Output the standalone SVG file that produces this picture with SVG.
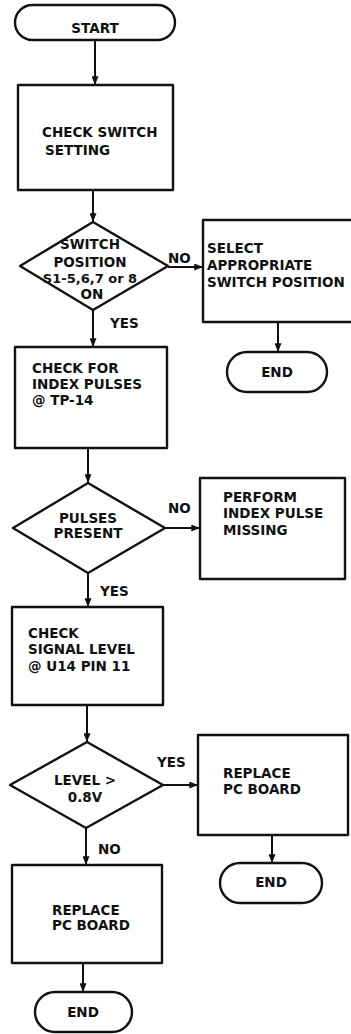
<svg xmlns="http://www.w3.org/2000/svg" width="351" height="1034" viewBox="0 0 351 1034">
<defs>
<marker id="ah" viewBox="0 0 10 8" refX="10" refY="4" markerWidth="10" markerHeight="7" orient="auto" markerUnits="userSpaceOnUse">
<path d="M0,0 L10,4 L0,8 Z" fill="#111"/>
</marker>
<style>
.s{fill:#fff;stroke:#111;stroke-width:2.4;stroke-linejoin:round}
.t{font-family:"DejaVu Sans","Liberation Sans",sans-serif;font-weight:bold;font-size:13.5px;fill:#111}
.m{text-anchor:middle}
.c line{stroke:#111;stroke-width:2;marker-end:url(#ah)}
</style>
</defs>
<rect width="351" height="1034" fill="#fff"/>
<g class="c" id="connectors">
<line x1="95" y1="40" x2="95" y2="85"/>
<line x1="93" y1="190" x2="93" y2="222"/>
<line x1="168" y1="267" x2="203" y2="267"/>
<line x1="93" y1="310" x2="93" y2="347"/>
<line x1="278" y1="322" x2="278" y2="352"/>
<line x1="88" y1="448" x2="88" y2="483"/>
<line x1="165" y1="528" x2="200" y2="528"/>
<line x1="88" y1="573" x2="88" y2="607"/>
<line x1="87" y1="705" x2="87" y2="742"/>
<line x1="163" y1="785" x2="198" y2="785"/>
<line x1="272" y1="835" x2="272" y2="863"/>
<line x1="86" y1="828" x2="86" y2="865"/>
<line x1="83" y1="963" x2="83" y2="992"/>
</g>
<g id="start"><rect class="s" x="15" y="5" width="160" height="35" rx="17.5"/><text class="t m" x="95" y="33">START</text></g>
<g id="check-switch"><rect class="s" x="18" y="85" width="155" height="105"/><text class="t" x="42" y="137">CHECK SWITCH</text><text class="t" x="45" y="155">SETTING</text></g>
<g id="switch-dec"><path class="s" d="M93,222 L168,266 L93,310 L20,266 Z"/>
<text class="t m" x="90" y="249">SWITCH</text><text class="t m" x="90" y="267">POSITION</text><text class="t m" x="90" y="283" style="font-size:13px">S1-5,6,7 or 8</text><text class="t m" x="92" y="299">ON</text></g>
<g id="select"><rect class="s" x="203" y="220" width="152" height="102"/><text class="t" x="207" y="253">SELECT</text><text class="t" x="207" y="270">APPROPRIATE</text><text class="t" x="207" y="287">SWITCH POSITION</text></g>
<g id="end1"><rect class="s" x="227" y="352" width="100" height="40" rx="20"/><text class="t m" x="277" y="377">END</text></g>
<g id="check-index"><rect class="s" x="15" y="347" width="152" height="101"/><text class="t" x="32" y="373">CHECK FOR</text><text class="t" x="32" y="389">INDEX PULSES</text><text class="t" x="32" y="405">@ TP-14</text></g>
<g id="pulses-dec"><path class="s" d="M88,483 L165,528 L88,573 L13,528 Z"/><text class="t m" x="88" y="523">PULSES</text><text class="t m" x="88" y="538">PRESENT</text></g>
<g id="perform"><rect class="s" x="200" y="478" width="145" height="101"/><text class="t" x="223" y="502">PERFORM</text><text class="t" x="223" y="518">INDEX PULSE</text><text class="t" x="223" y="535">MISSING</text></g>
<g id="check-signal"><rect class="s" x="12" y="607" width="151" height="98"/><text class="t" x="28" y="638">CHECK</text><text class="t" x="28" y="654">SIGNAL LEVEL</text><text class="t" x="28" y="671">@ U14 PIN 11</text></g>
<g id="level-dec"><path class="s" d="M87,742 L163,785 L86,828 L10,785 Z"/><text class="t m" x="85" y="785">LEVEL &gt;</text><text class="t m" x="85" y="802">0.8V</text></g>
<g id="replace-right"><rect class="s" x="198" y="735" width="150" height="100"/><text class="t" x="223" y="778">REPLACE</text><text class="t" x="223" y="794">PC BOARD</text></g>
<g id="end2"><rect class="s" x="220" y="863" width="102" height="40" rx="20"/><text class="t m" x="271" y="887">END</text></g>
<g id="replace-left"><rect class="s" x="12" y="865" width="150" height="98"/><text class="t" x="52" y="915">REPLACE</text><text class="t" x="52" y="930">PC BOARD</text></g>
<g id="end3"><rect class="s" x="35" y="992" width="97" height="40" rx="20"/><text class="t m" x="83" y="1017">END</text></g>
<g id="labels">
<text class="t" x="168" y="263">NO</text>
<text class="t" x="110" y="328">YES</text>
<text class="t" x="168" y="513">NO</text>
<text class="t" x="100" y="596">YES</text>
<text class="t" x="157" y="767">YES</text>
<text class="t" x="98" y="854">NO</text>
</g>
</svg>
